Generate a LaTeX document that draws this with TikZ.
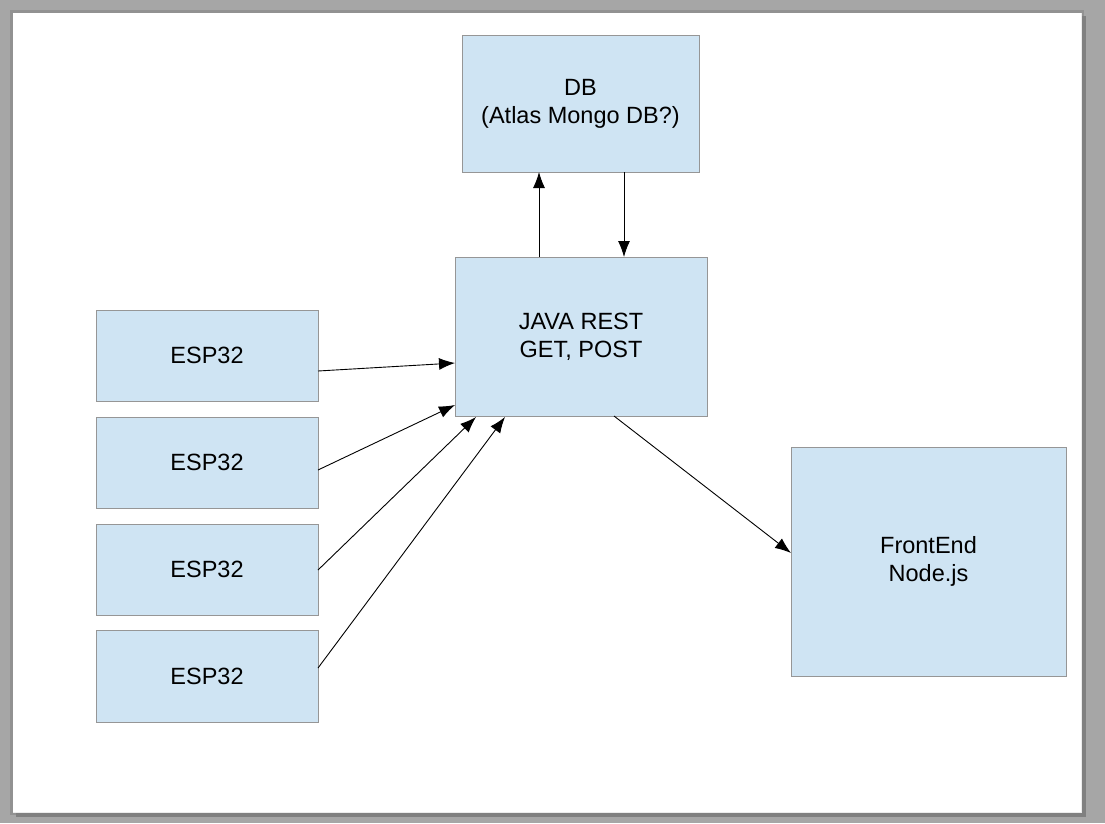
\documentclass[tikz,border=0pt]{standalone}
\usepackage{fontspec}
\setmainfont{Liberation Sans}
\usetikzlibrary{arrows.meta,calc}
\definecolor{boxfill}{RGB}{207,228,243}
\definecolor{boxline}{RGB}{150,150,150}
\definecolor{pagebg}{RGB}{166,166,166}
\definecolor{pageshadow}{RGB}{128,128,128}
\tikzset{
  box/.style={draw=boxline, fill=boxfill, line width=1pt, inner sep=0pt, outer sep=0pt,
    align=center, font=\fontsize{23.5}{28}\selectfont},
  arr/.style={draw=black, line width=0.9pt, -{Latex[length=16pt,width=12pt]}},
}
\begin{document}
\begin{tikzpicture}[x=1pt,y=-1pt]
\useasboundingbox (0,0) rectangle (1105,823);
\fill[pagebg] (0,0) rectangle (1105,823);
\fill[pagebg!88!black] (10,10) rectangle (1084,815);
\fill[pageshadow] (16,16) rectangle (1086,817);
\fill[white!85!gray] (13,13) rectangle (1082,813);
\fill[white] (13,13) rectangle (1081,812);

\node[box, minimum width=237pt, minimum height=137pt] (db) at (580.5,103.5) {DB\\(Atlas Mongo DB?)};
\node[box, minimum width=252pt, minimum height=159pt] (java) at (581,336.5) {JAVA REST\\GET, POST};
\node[box, minimum width=222pt, minimum height=91pt] (e1) at (207,355.5) {ESP32};
\node[box, minimum width=222pt, minimum height=91pt] (e2) at (207,462.5) {ESP32};
\node[box, minimum width=222pt, minimum height=91pt] (e3) at (207,569.5) {ESP32};
\node[box, minimum width=222pt, minimum height=92pt] (e4) at (207,676) {ESP32};
\node[box, minimum width=275pt, minimum height=229pt] (fe) at (928.5,561.5) {FrontEnd\\Node.js};

\draw[arr] ($(java.north west)+(84,0)$) -- ($(db.south west)+(77,0)$);
\draw[arr] ($(db.south west)+(162,0)$) -- ($(java.north west)+(169,0)$);
\draw[arr] ($(e1.east)+(0,15.5)$) -- ($(java.west)+(0,26.5)$);
\draw[arr] ($(e2.east)+(0,7.5)$) -- ($(java.west)+(0,68.5)$);
\draw[arr] ($(e3.east)+(0,0.5)$) -- ($(java.south west)+(21,1)$);
\draw[arr] ($(e4.east)+(0,-8)$) -- ($(java.south west)+(50,1)$);
\draw[arr] ($(java.south west)+(159,0)$) -- ($(fe.west)+(0,-8.5)$);
\end{tikzpicture}
\end{document}
